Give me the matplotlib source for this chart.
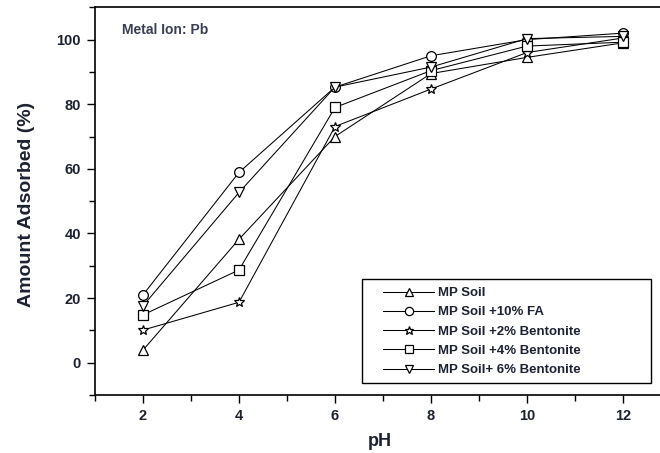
import matplotlib
matplotlib.use("Agg")
import matplotlib.pyplot as plt
from matplotlib.ticker import FixedLocator
from matplotlib.patches import Rectangle

plt.rcParams['font.family'] = ['Liberation Sans', 'DejaVu Sans']

ph = [2, 4, 6, 8, 10, 12]
mp_soil = [3.9, 38.2, 70, 89.5, 94.5, 99]
mp_fa10 = [21, 58.9, 85.3, 95, 100, 102]
mp_bent2 = [10.1, 18.7, 73.1, 84.7, 96, 100.5]
mp_bent4 = [14.8, 28.7, 79, 90.4, 98, 99.2]
mp_bent6 = [17.6, 52.7, 85.3, 91.5, 100.3, 101]

labels = ["MP Soil", "MP Soil +10% FA", "MP Soil +2% Bentonite",
          "MP Soil +4% Bentonite", "MP Soil+ 6% Bentonite"]
markers = ['^', 'o', '*', 's', 'v']
series = [mp_soil, mp_fa10, mp_bent2, mp_bent4, mp_bent6]

W, H = 660, 453
fig = plt.figure(figsize=(W/100, H/100), dpi=100)
ax = fig.add_axes([95/W, (H-395)/H, (W-95)/W, (395-7.3)/H])

for ys, m, lab in zip(series, markers, labels):
    ms = 7.5 if m == '*' else 7
    if m == 's':
        ms = 6.5
    ax.plot(ph, ys, color='black', lw=0.75, marker=m, markersize=ms,
            markerfacecolor='white', markeredgecolor='black', markeredgewidth=0.9,
            label=lab)

ax.set_xlim(1, 1 + 565/48)
ax.set_ylim(-10, 110)
ax.xaxis.set_major_locator(FixedLocator([2, 4, 6, 8, 10, 12]))
ax.xaxis.set_minor_locator(FixedLocator([1, 3, 5, 7, 9, 11]))
ax.yaxis.set_major_locator(FixedLocator([0, 20, 40, 60, 80, 100]))
ax.yaxis.set_minor_locator(FixedLocator([-10, 10, 30, 50, 70, 90, 110]))
ax.tick_params(which='major', direction='out', length=6, width=1, labelsize=10.5,
               colors='black', labelcolor='#1d2233', pad=4)
ax.tick_params(which='minor', direction='out', length=4, width=1)
for lbl in ax.get_xticklabels() + ax.get_yticklabels():
    lbl.set_fontweight('bold')
ax.spines['right'].set_visible(False)
for s in ['left', 'bottom', 'top']:
    ax.spines[s].set_linewidth(1.2)

ax.set_xlabel('pH', fontsize=13, fontweight='bold', color='#1d2233')
ax.xaxis.set_label_coords((380-95)/565, (395-441)/387.7)
ax.xaxis.label.set_va('center')
ax.set_ylabel('Amount Adsorbed (%)', fontsize=14, fontweight='bold', color='#1d2233')
ax.yaxis.set_label_coords((26-95)/565, (395-204)/387.7)
ax.yaxis.label.set_va('center')

ax.text((122-95)/565, (395-30)/387.7, 'Metal Ion: Pb', transform=ax.transAxes, fontsize=10,
        color='#3a3f55', va='center', ha='left', fontweight='bold')

# legend box frame
box = Rectangle(((362-95)/565, (395-383)/387.7), (651-362)/565, (383-279)/387.7,
                transform=ax.transAxes, facecolor='white', edgecolor='black',
                linewidth=1.0, zorder=4, clip_on=False)
ax.add_patch(box)

leg = ax.legend(loc='upper left', bbox_to_anchor=((383-95)/565, (395-287)/387.7),
                frameon=False, handlelength=3.9, labelspacing=0.53, borderpad=0,
                handletextpad=0.3, borderaxespad=0, markerscale=0.85,
                prop={'weight': 'bold', 'size': 9.5})
leg.set_zorder(5)
for t in leg.get_texts():
    t.set_color('#1d2233')

fig.savefig('out.png', dpi=100)
